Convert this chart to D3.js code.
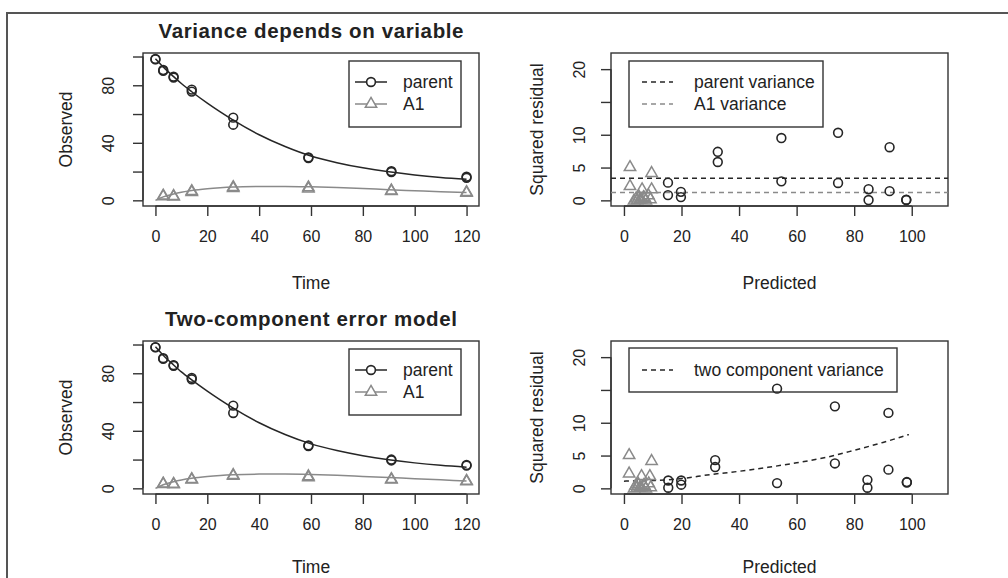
<!DOCTYPE html>
<html><head><meta charset="utf-8">
<script src="https://cdn.jsdelivr.net/npm/d3@7"></script>
<style>
body{margin:0;background:#fff}
text{font-family:"Liberation Sans",Arial,Helvetica,sans-serif;fill:#222}
</style>
</head><body>
<svg id="c" width="1008" height="578"></svg>
<script>
// ---------- data ----------
const titles = ["Variance depends on variable", "Two-component error model"];
const timeTicks = [0, 20, 40, 60, 80, 100, 120];
const obsTicks = [0, 20, 40, 60, 80, 100];
const obsTickLabels = ["0", "", "40", "", "80", ""];
const predTicks = [0, 20, 40, 60, 80, 100];
const resTicks = [0, 5, 10, 15, 20];
const resTickLabels = ["0", "5", "10", "", "20"];
const seriesNames = ["parent", "A1"];
const varianceNames = ["parent variance", "A1 variance"];
const twoCompName = "two component variance";

const parentTimes = [0, 0, 3, 3, 7, 7, 14, 14, 30, 30, 59, 59, 91, 91, 120, 120];
const a1Times = [3, 3, 7, 7, 14, 14, 30, 30, 59, 59, 91, 91, 120, 120];

// top-left observed
const parentObsTop = [98, 98.3, 90.6, 90, 86, 85.4, 77, 75.6, 57.5, 52.6, 29.9, 29.4, 20.3, 19.7, 16.4, 15.7];
const a1ObsTop = [3.4, 3.9, 3.6, 3.2, 6.4, 7.0, 9.8, 9.1, 9.6, 8.8, 7.4, 7.1, 5.9, 6.3];
// bottom-left observed
const parentObsBot = [98, 98.2, 90.5, 90, 85.6, 85.2, 76.8, 75.8, 57.5, 52.4, 29.8, 29.4, 20, 19.4, 16.3, 15.8];
const a1ObsBot = [3.6, 3.9, 3.7, 3.3, 6.6, 7.0, 9.9, 9.3, 9.0, 8.2, 7.0, 6.6, 5.8, 5.4];

// fitted curves
const fitTimes = [0, 3, 7, 10, 14, 20, 25, 30, 40, 50, 60, 70, 80, 90, 100, 110, 120];
const parentFitTop = [98.5, 92.8, 86.0, 81.2, 75.5, 67.6, 61.5, 55.8, 45.6, 37.4, 30.8, 26.2, 22.6, 19.8, 17.6, 15.9, 14.6];
const a1FitTop = [0, 2.4, 4.4, 5.6, 6.8, 8.0, 8.7, 9.2, 9.6, 9.7, 9.4, 8.9, 8.2, 7.4, 6.7, 6.0, 5.4];
const parentFitBot = [98.5, 92.6, 85.8, 81.0, 75.4, 67.6, 61.5, 55.8, 45.6, 37.4, 30.9, 26.3, 22.7, 19.9, 17.7, 16.0, 14.7];
const a1FitBot = [0, 2.5, 4.6, 5.8, 7.0, 8.2, 8.9, 9.4, 9.9, 10.0, 9.7, 9.1, 8.3, 7.5, 6.7, 5.9, 5.1];

// residual plots
const parentPredTop = [98.1, 98.1, 92.3, 92.3, 85, 85, 74.4, 74.4, 54.7, 54.7, 32.6, 32.6, 19.8, 19.8, 15.3, 15.3];
const parentSqResTop = [0.05, 0.1, 8.1, 1.4, 1.7, 0.05, 10.3, 2.65, 9.5, 2.9, 7.4, 5.85, 1.3, 0.5, 2.7, 0.8];
const a1PredTop = [2.1, 2.1, 4.2, 4.6, 6.3, 6.8, 9.6, 9.6, 9.2, 8.5, 7.6, 7.2, 5.5, 5.2, 3.5, 6.0];
const a1SqResTop = [5.2, 2.3, 0.4, 0.15, 1.8, 0.6, 4.3, 1.8, 0.3, 0.9, 0.1, 0.5, 0.2, 0.7, 0.1, 0.3];
const parentVariance = 3.36;
const a1Variance = 1.2;

const parentPredBot = [98.3, 98.3, 91.9, 91.9, 84.6, 84.6, 73.3, 73.3, 53.2, 53.2, 31.7, 31.7, 19.9, 19.9, 15.4, 15.4];
const parentSqResBot = [0.96, 0.9, 11.5, 2.85, 1.3, 0.1, 12.5, 3.8, 15.2, 0.8, 4.3, 3.25, 1.2, 0.56, 1.2, 0.1];
const a1PredBot = [1.8, 1.8, 4.0, 4.5, 6.1, 6.9, 9.6, 9.0, 9.3, 8.6, 7.6, 7.1, 5.4, 5.0, 3.5, 6.0];
const a1SqResBot = [5.2, 2.4, 0.5, 0.2, 2.0, 0.6, 4.3, 2.0, 0.3, 0.9, 0.1, 0.5, 0.2, 0.8, 0.1, 0.3];
const twoCompPred = [0, 10, 15, 20, 30, 40, 50, 60, 70, 80, 90, 99];
const twoCompVar = [1.1, 1.2, 1.3, 1.5, 2.1, 2.6, 3.2, 3.9, 4.7, 5.8, 7.0, 8.2];

// ---------- drawing ----------
const svg = d3.select("#c");
const DARK = "#262626", GRAY = "#8a8a8a", TICKFONT = 16, LABFONT = 17.5;

// outer frame
svg.append("path").attr("d", "M7,578 V13 H1008").attr("fill", "none")
  .attr("stroke", "#555").attr("stroke-width", 2);

function panel(o) {
  const x = d3.scaleLinear().domain(o.xd).range([o.x0, o.x1]);
  const y = d3.scaleLinear().domain(o.yd).range([o.y1, o.y0]);
  const g = svg.append("g");
  g.append("rect").attr("x", o.x0).attr("y", o.y0).attr("width", o.x1 - o.x0)
    .attr("height", o.y1 - o.y0).attr("fill", "none").attr("stroke", "#333").attr("stroke-width", 1.4);
  const xa = g.append("g").attr("transform", `translate(0,${o.y1})`)
    .call(d3.axisBottom(x).tickValues(o.xt).tickSize(10).tickPadding(15).tickFormat(d3.format("d")));
  xa.select(".domain").attr("stroke", "#333").attr("stroke-width", 1.4)
    .attr("d", `M${x(o.xt[0])},0H${x(o.xt[o.xt.length - 1])}`);
  xa.selectAll(".tick line").attr("stroke", "#333").attr("stroke-width", 1.4);
  xa.selectAll(".tick text").attr("font-size", TICKFONT).attr("font-family", null).attr("fill", "#222");
  const ya = g.append("g").attr("transform", `translate(${o.x0},0)`)
    .call(d3.axisLeft(y).tickValues(o.yt).tickSize(10).tickFormat((d, i) => o.ytl[i]));
  ya.select(".domain").attr("stroke", "#333").attr("stroke-width", 1.4)
    .attr("d", `M0,${y(o.yt[0])}V${y(o.yt[o.yt.length - 1])}`);
  ya.selectAll(".tick line").attr("stroke", "#333").attr("stroke-width", 1.4);
  ya.selectAll(".tick text").attr("font-size", TICKFONT).attr("font-family", null).attr("fill", "#222")
    .attr("x", 0).attr("text-anchor", "middle")
    .attr("transform", `translate(${-o.ylabOff},0) rotate(-90)`).attr("dy", "0.36em");
  g.append("text").attr("x", (o.x0 + o.x1) / 2).attr("y", o.y1 + o.xlabOff).attr("text-anchor", "middle")
    .attr("font-size", LABFONT).text(o.xlab);
  g.append("text").attr("transform", `translate(${o.ytitleX},${(o.y0 + o.y1) / 2}) rotate(-90)`)
    .attr("text-anchor", "middle").attr("dy", "0.36em").attr("font-size", LABFONT).text(o.ylab);
  if (o.title) g.append("text").attr("x", (o.x0 + o.x1) / 2).attr("y", o.y0 - 15)
    .attr("text-anchor", "middle").attr("font-size", 20.5).attr("font-weight", "bold")
    .attr("textLength", o.titleLen).attr("lengthAdjust", "spacing").text(o.title);
  return {g, x, y};
}

function circles(g, xs, ys, x, y, col) {
  g.append("g").selectAll("circle").data(xs).join("circle")
    .attr("cx", d => x(d)).attr("cy", (d, i) => y(ys[i])).attr("r", 4.4)
    .attr("fill", "none").attr("stroke", col).attr("stroke-width", 1.6);
}
const tri = d3.symbol().type(d3.symbolTriangle).size(56);
function triangles(g, xs, ys, x, y, col) {
  g.append("g").selectAll("path").data(xs).join("path")
    .attr("d", tri).attr("transform", (d, i) => `translate(${x(d)},${y(ys[i]) + 1})`)
    .attr("fill", "none").attr("stroke", col).attr("stroke-width", 1.5);
}
function curve(g, xs, ys, x, y, col, dash) {
  const l = d3.line().x(d => x(d)).y((d, i) => y(ys[i])).curve(d3.curveMonotoneX);
  g.append("path").attr("d", l(xs)).attr("fill", "none").attr("stroke", col)
    .attr("stroke-width", 1.5).attr("stroke-dasharray", dash || null);
}

function obsPanel(y0, xlabOff, title, titleLen, pObs, aObs, pFit, aFit) {
  const p = panel({x0: 143, x1: 479, y0: y0, y1: y0 + 153, xd: [-4.8, 124.8], yd: [-3.94, 102.44],
    xt: timeTicks, yt: obsTicks, ytl: obsTickLabels, xlab: "Time", ylab: "Observed",
    ylabOff: 35, ytitleX: 66, xlabOff: xlabOff, title: title, titleLen: titleLen});
  curve(p.g, fitTimes, pFit, p.x, p.y, DARK);
  curve(p.g, fitTimes, aFit, p.x, p.y, GRAY);
  circles(p.g, parentTimes, pObs, p.x, p.y, DARK);
  triangles(p.g, a1Times, aObs, p.x, p.y, GRAY);
  const lg = p.g.append("g");
  lg.append("rect").attr("x", 349).attr("y", y0 + 8).attr("width", 112).attr("height", 66)
    .attr("fill", "#fff").attr("stroke", "#333").attr("stroke-width", 1.4);
  seriesNames.forEach((n, i) => {
    const yy = y0 + 29 + i * 22, col = i === 0 ? DARK : GRAY;
    lg.append("line").attr("x1", 355).attr("x2", 387).attr("y1", yy).attr("y2", yy)
      .attr("stroke", col).attr("stroke-width", 1.5);
    if (i === 0) lg.append("circle").attr("cx", 371).attr("cy", yy).attr("r", 4.4)
      .attr("fill", "#fff").attr("stroke", col).attr("stroke-width", 1.6);
    else lg.append("path").attr("d", tri).attr("transform", `translate(371,${yy})`)
      .attr("fill", "#fff").attr("stroke", col).attr("stroke-width", 1.5);
    lg.append("text").attr("x", 403).attr("y", yy).attr("dy", "0.36em").attr("font-size", LABFONT).text(n);
  });
}

function resPanel(y0, xlabOff) {
  return panel({x0: 611, x1: 948, y0: y0, y1: y0 + 153, xd: [-4.5, 112.6], yd: [-0.86, 22.46],
    xt: predTicks, yt: resTicks, ytl: resTickLabels, xlab: "Predicted", ylab: "Squared residual",
    ylabOff: 32, ytitleX: 537, xlabOff: xlabOff});
}

obsPanel(53, 83, titles[0], 305, parentObsTop, a1ObsTop, parentFitTop, a1FitTop);
obsPanel(341, 79, titles[1], 292, parentObsBot, a1ObsBot, parentFitBot, a1FitBot);

// top-right
const r1 = resPanel(53, 83);
[[parentVariance, DARK], [a1Variance, GRAY]].forEach(([v, col]) => {
  r1.g.append("line").attr("x1", 611).attr("x2", 948).attr("y1", r1.y(v)).attr("y2", r1.y(v))
    .attr("stroke", col).attr("stroke-width", 1.5).attr("stroke-dasharray", "5,4");
});
circles(r1.g, parentPredTop, parentSqResTop, r1.x, r1.y, DARK);
triangles(r1.g, a1PredTop, a1SqResTop, r1.x, r1.y, GRAY);
{
  const lg = r1.g.append("g");
  lg.append("rect").attr("x", 629).attr("y", 61).attr("width", 194).attr("height", 66)
    .attr("fill", "#fff").attr("stroke", "#333").attr("stroke-width", 1.4);
  varianceNames.forEach((n, i) => {
    const yy = 82 + i * 22, col = i === 0 ? DARK : GRAY;
    lg.append("line").attr("x1", 642).attr("x2", 673).attr("y1", yy).attr("y2", yy)
      .attr("stroke", col).attr("stroke-width", 1.5).attr("stroke-dasharray", "5,4");
    lg.append("text").attr("x", 694).attr("y", yy).attr("dy", "0.36em").attr("font-size", LABFONT).text(n);
  });
}

// bottom-right
const r2 = resPanel(341, 79);
curve(r2.g, twoCompPred, twoCompVar, r2.x, r2.y, DARK, "5,4");
{
  const lg = r2.g.append("g");
  lg.append("rect").attr("x", 629).attr("y", 348).attr("width", 268).attr("height", 44)
    .attr("fill", "#fff").attr("stroke", "#333").attr("stroke-width", 1.4);
  lg.append("line").attr("x1", 642).attr("x2", 673).attr("y1", 370).attr("y2", 370)
    .attr("stroke", DARK).attr("stroke-width", 1.5).attr("stroke-dasharray", "5,4");
  lg.append("text").attr("x", 694).attr("y", 370).attr("dy", "0.36em").attr("font-size", LABFONT)
    .text(twoCompName);
}
circles(r2.g, parentPredBot, parentSqResBot, r2.x, r2.y, DARK);
triangles(r2.g, a1PredBot, a1SqResBot, r2.x, r2.y, GRAY);
</script>
</body></html>
